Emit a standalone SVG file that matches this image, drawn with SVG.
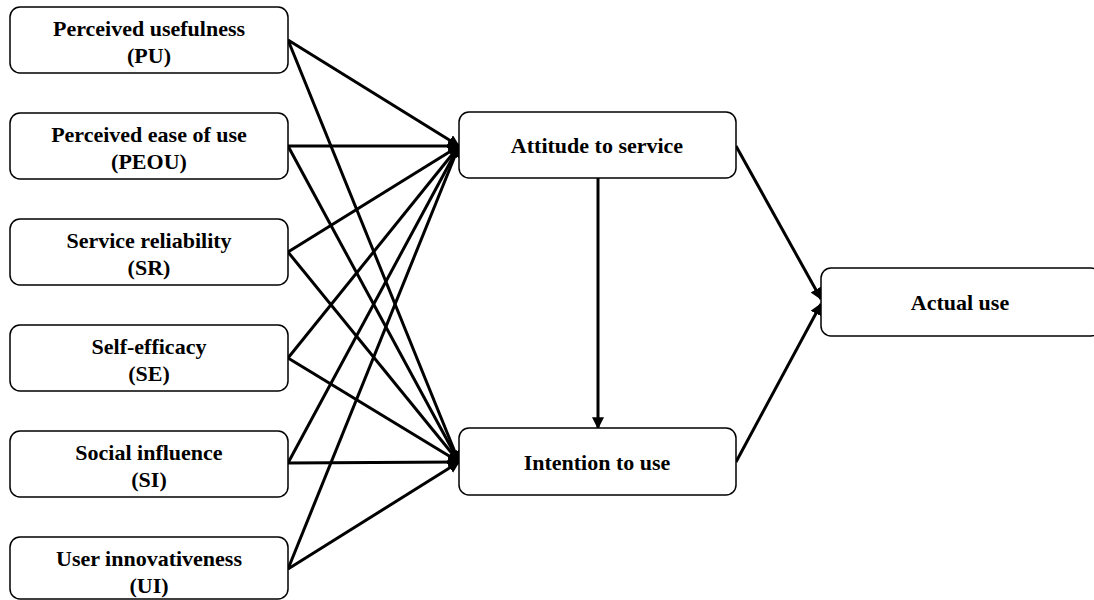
<svg xmlns="http://www.w3.org/2000/svg" width="1094" height="600" viewBox="0 0 1094 600">
<defs>
<style>
.box{fill:#fff;stroke:#000;stroke-width:1.5}
.t{font-family:"Liberation Serif","Times New Roman",serif;font-weight:bold;font-size:22px;fill:#000;text-anchor:middle}
.c{stroke:#000;stroke-width:3;fill:none;marker-end:url(#ah)}
</style>
<marker id="ah" viewBox="0 0 10 10" refX="9" refY="5" markerWidth="4" markerHeight="4" orient="auto" markerUnits="strokeWidth">
<path d="M0,0 L10,5 L0,10 z" fill="#000"/>
</marker>
</defs>
<rect width="1094" height="600" fill="#fff"/>
<g id="connectors">
<line class="c" x1="288" y1="40" x2="459" y2="146"/>
<line class="c" x1="288" y1="40" x2="459" y2="462"/>
<line class="c" x1="288" y1="146" x2="459" y2="146"/>
<line class="c" x1="288" y1="146" x2="459" y2="462"/>
<line class="c" x1="288" y1="252" x2="459" y2="146"/>
<line class="c" x1="288" y1="252" x2="459" y2="462"/>
<line class="c" x1="288" y1="358" x2="459" y2="146"/>
<line class="c" x1="288" y1="358" x2="459" y2="462"/>
<line class="c" x1="288" y1="463" x2="459" y2="146"/>
<line class="c" x1="288" y1="463" x2="459" y2="462"/>
<line class="c" x1="288" y1="569" x2="459" y2="146"/>
<line class="c" x1="288" y1="569" x2="459" y2="462"/>
<line class="c" x1="598" y1="178" x2="598" y2="428"/>
<line class="c" x1="736" y1="146" x2="821" y2="299"/>
<line class="c" x1="736" y1="462" x2="821" y2="304"/>
</g>
<g id="pu"><rect class="box" x="10" y="7" width="278" height="66" rx="10"/><text class="t" x="149" y="36">Perceived usefulness</text><text class="t" x="149" y="63">(PU)</text></g>
<g id="peou"><rect class="box" x="10" y="113" width="278" height="66" rx="10"/><text class="t" x="149" y="142">Perceived ease of use</text><text class="t" x="149" y="169">(PEOU)</text></g>
<g id="sr"><rect class="box" x="10" y="219" width="278" height="66" rx="10"/><text class="t" x="149" y="248">Service reliability</text><text class="t" x="149" y="275">(SR)</text></g>
<g id="se"><rect class="box" x="10" y="325" width="278" height="66" rx="10"/><text class="t" x="149" y="354">Self-efficacy</text><text class="t" x="149" y="381">(SE)</text></g>
<g id="si"><rect class="box" x="10" y="431" width="278" height="66" rx="10"/><text class="t" x="149" y="460">Social influence</text><text class="t" x="149" y="487">(SI)</text></g>
<g id="ui"><rect class="box" x="10" y="537" width="278" height="62" rx="10"/><text class="t" x="149" y="566">User innovativeness</text><text class="t" x="149" y="593">(UI)</text></g>
<g id="attitude"><rect class="box" x="459" y="112" width="277" height="66" rx="10"/><text class="t" x="597" y="153">Attitude to service</text></g>
<g id="intention"><rect class="box" x="459" y="428" width="277" height="67" rx="10"/><text class="t" x="597" y="470">Intention to use</text></g>
<g id="actual"><rect class="box" x="821" y="268" width="280" height="68" rx="10"/><text class="t" x="960" y="310">Actual use</text></g>
</svg>
